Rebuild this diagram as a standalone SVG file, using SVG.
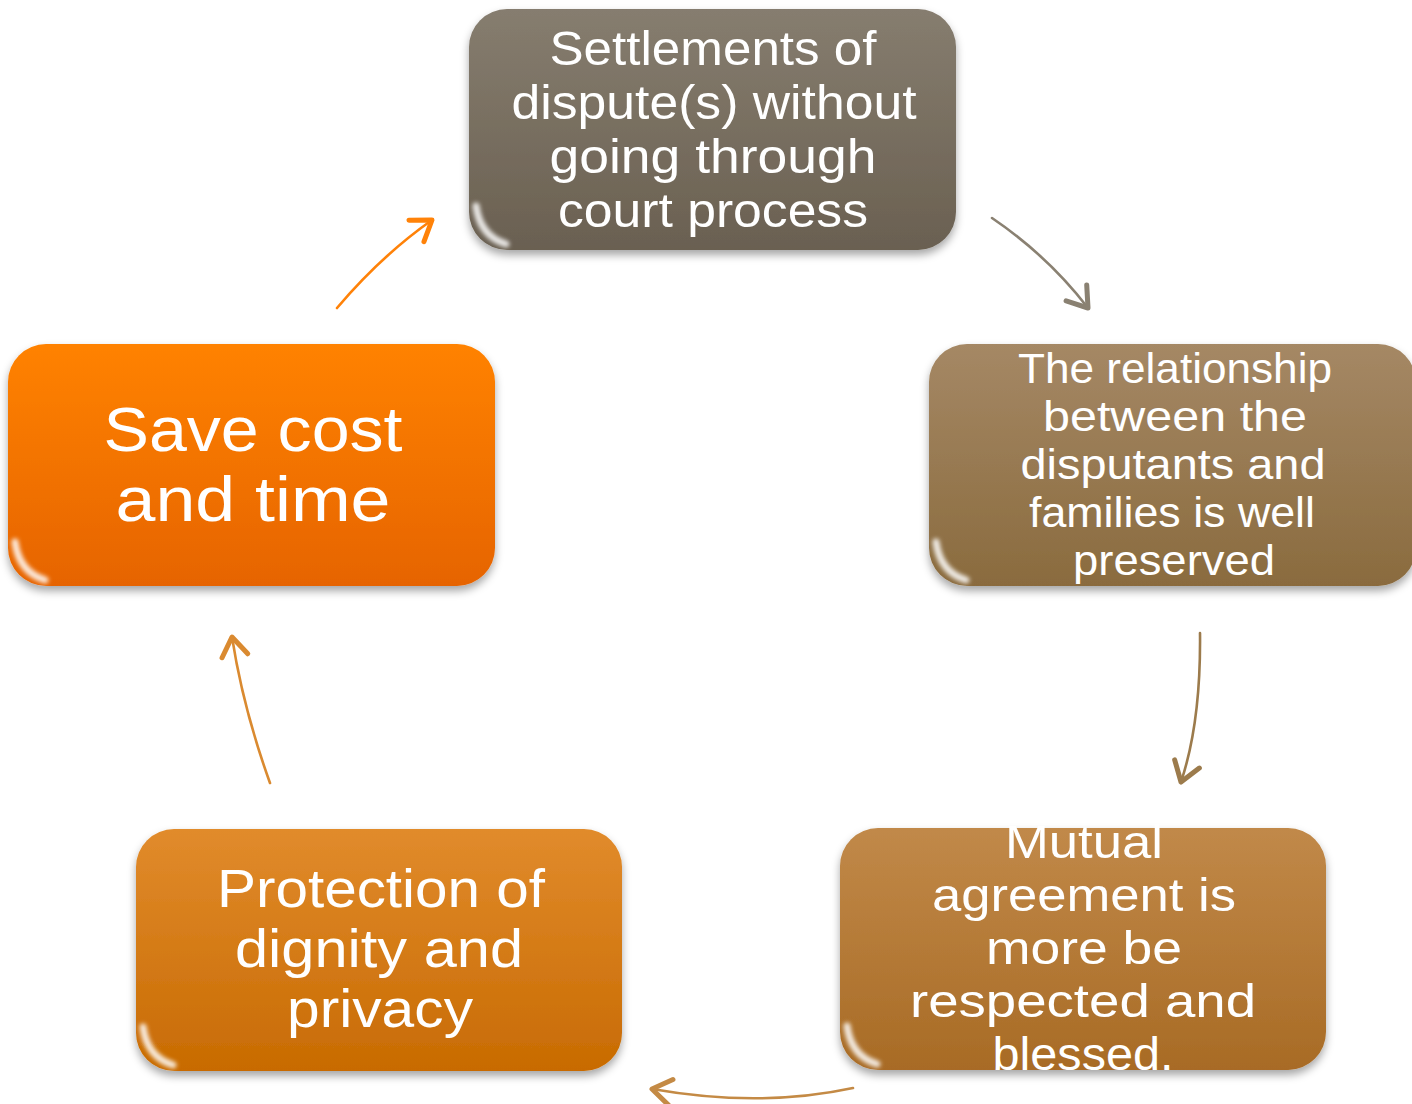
<svg xmlns="http://www.w3.org/2000/svg" width="1412" height="1104" viewBox="0 0 1412 1104">
<style>
.lbl{fill:#ffffff;font-family:"Liberation Sans",Arial,sans-serif;text-anchor:middle}
.hl{fill:none;stroke:#ffffff;stroke-linecap:round}
.con{fill:none;stroke-width:2.6;stroke-linecap:round}
</style>
<defs>
<filter id="sh" x="-10%" y="-10%" width="120%" height="130%">
<feDropShadow dx="0" dy="5" stdDeviation="4" flood-color="#000" flood-opacity="0.35"/>
</filter>
<filter id="bl" x="-20%" y="-50%" width="140%" height="200%"><feGaussianBlur stdDeviation="1.5"/></filter>
<filter id="bl2" x="-50%" y="-50%" width="200%" height="200%"><feGaussianBlur stdDeviation="2"/></filter>
<linearGradient id="g1" x1="0" y1="0" x2="0" y2="1"><stop offset="0" stop-color="#867d6f"/><stop offset="1" stop-color="#6a6051"/></linearGradient>
<linearGradient id="g2" x1="0" y1="0" x2="0" y2="1"><stop offset="0" stop-color="#a58865"/><stop offset="1" stop-color="#8a6b3e"/></linearGradient>
<linearGradient id="g3" x1="0" y1="0" x2="0" y2="1"><stop offset="0" stop-color="#c18949"/><stop offset="1" stop-color="#a86b25"/></linearGradient>
<linearGradient id="g4" x1="0" y1="0" x2="0" y2="1"><stop offset="0" stop-color="#e18b2c"/><stop offset="1" stop-color="#c86b02"/></linearGradient>
<linearGradient id="g5" x1="0" y1="0" x2="0" y2="1"><stop offset="0" stop-color="#ff8205"/><stop offset="1" stop-color="#e66405"/></linearGradient>
<marker id="m1" markerUnits="userSpaceOnUse" markerWidth="40" markerHeight="40" refX="0" refY="0" viewBox="-25 -20 30 40" orient="auto"><path d="M-19,-13 L0,0 L-19,13" fill="none" stroke="#8a8172" stroke-width="5" stroke-linecap="round" stroke-linejoin="round"/></marker>
<marker id="m2" markerUnits="userSpaceOnUse" markerWidth="40" markerHeight="40" refX="0" refY="0" viewBox="-25 -20 30 40" orient="auto"><path d="M-19,-13 L0,0 L-19,13" fill="none" stroke="#9c7b4c" stroke-width="5" stroke-linecap="round" stroke-linejoin="round"/></marker>
<marker id="m3" markerUnits="userSpaceOnUse" markerWidth="40" markerHeight="40" refX="0" refY="0" viewBox="-25 -20 30 40" orient="auto"><path d="M-19,-13 L0,0 L-19,13" fill="none" stroke="#c48a45" stroke-width="5" stroke-linecap="round" stroke-linejoin="round"/></marker>
<marker id="m4" markerUnits="userSpaceOnUse" markerWidth="40" markerHeight="40" refX="0" refY="0" viewBox="-25 -20 30 40" orient="auto"><path d="M-19,-13 L0,0 L-19,13" fill="none" stroke="#da8a30" stroke-width="5" stroke-linecap="round" stroke-linejoin="round"/></marker>
<marker id="m5" markerUnits="userSpaceOnUse" markerWidth="40" markerHeight="40" refX="0" refY="0" viewBox="-25 -20 30 40" orient="auto"><path d="M-19,-13 L0,0 L-19,13" fill="none" stroke="#ff8208" stroke-width="5" stroke-linecap="round" stroke-linejoin="round"/></marker>
</defs>
<rect width="1412" height="1104" fill="#ffffff"/>

<g id="connectors">
<path class="con" d="M992,218 Q1048,256 1088,308" stroke="#8a8172" marker-end="url(#m1)"/>
<path class="con" d="M1200,633 Q1201,722 1181,782" stroke="#9c7b4c" marker-end="url(#m2)"/>
<path class="con" d="M853,1088 Q760,1108 652,1089" stroke="#c48a45" marker-end="url(#m3)"/>
<path class="con" d="M270,783 Q243,708 232,637" stroke="#da8a30" marker-end="url(#m4)"/>
<path class="con" d="M337,308 Q381,256 432,220" stroke="#ff8208" marker-end="url(#m5)"/>
</g>

<g id="node-settlements">
<rect x="469" y="9" width="487" height="241" rx="38" fill="url(#g1)" filter="url(#sh)"/>
<path class="hl" d="M505,15 L920,15" stroke-width="3" opacity="0.45" filter="url(#bl)"/>
<path class="hl" d="M951,50 L951,215" stroke-width="2" opacity="0.35" filter="url(#bl)"/>
<path class="hl" d="M476,206 Q480,236 506,244" stroke-width="7" opacity="0.85" filter="url(#bl2)"/>
<text class="lbl" font-size="48"><tspan x="713" y="65" textLength="327" lengthAdjust="spacingAndGlyphs">Settlements of</tspan><tspan x="714" y="119" textLength="405" lengthAdjust="spacingAndGlyphs">dispute(s) without</tspan><tspan x="713" y="173" textLength="327" lengthAdjust="spacingAndGlyphs">going through</tspan><tspan x="713" y="227" textLength="310" lengthAdjust="spacingAndGlyphs">court process</tspan></text>
</g>

<g id="node-relationship">
<rect x="929" y="344" width="487" height="242" rx="38" fill="url(#g2)" filter="url(#sh)"/>
<path class="hl" d="M965,350 L1380,350" stroke-width="3" opacity="0.45" filter="url(#bl)"/>
<path class="hl" d="M936,542 Q940,572 966,580" stroke-width="7" opacity="0.85" filter="url(#bl2)"/>
<text class="lbl" font-size="42.8"><tspan x="1175" y="383" textLength="314" lengthAdjust="spacingAndGlyphs">The relationship</tspan><tspan x="1175" y="431" textLength="264" lengthAdjust="spacingAndGlyphs">between the</tspan><tspan x="1173" y="479" textLength="305" lengthAdjust="spacingAndGlyphs">disputants and</tspan><tspan x="1172" y="527" textLength="286" lengthAdjust="spacingAndGlyphs">families is well</tspan><tspan x="1174" y="575" textLength="202" lengthAdjust="spacingAndGlyphs">preserved</tspan></text>
</g>

<g id="node-mutual">
<rect x="840" y="828" width="486" height="242" rx="38" fill="url(#g3)" filter="url(#sh)"/>
<path class="hl" d="M876,834 L1290,834" stroke-width="3" opacity="0.45" filter="url(#bl)"/>
<path class="hl" d="M847,1026 Q851,1056 877,1064" stroke-width="7" opacity="0.85" filter="url(#bl2)"/>
<text class="lbl" font-size="47"><tspan x="1084" y="858" textLength="158" lengthAdjust="spacingAndGlyphs">Mutual</tspan><tspan x="1084" y="911" textLength="304" lengthAdjust="spacingAndGlyphs">agreement is</tspan><tspan x="1084" y="964" textLength="196" lengthAdjust="spacingAndGlyphs">more be</tspan><tspan x="1083" y="1017" textLength="346" lengthAdjust="spacingAndGlyphs">respected and</tspan><tspan x="1083" y="1070" textLength="181" lengthAdjust="spacingAndGlyphs">blessed.</tspan></text>
</g>

<g id="node-dignity">
<rect x="136" y="829" width="486" height="242" rx="38" fill="url(#g4)" filter="url(#sh)"/>
<path class="hl" d="M172,835 L586,835" stroke-width="3" opacity="0.45" filter="url(#bl)"/>
<path class="hl" d="M143,1027 Q147,1057 173,1065" stroke-width="7" opacity="0.85" filter="url(#bl2)"/>
<text class="lbl" font-size="53.4"><tspan x="381" y="907" textLength="328" lengthAdjust="spacingAndGlyphs">Protection of</tspan><tspan x="379" y="967" textLength="288" lengthAdjust="spacingAndGlyphs">dignity and</tspan><tspan x="380" y="1027" textLength="186" lengthAdjust="spacingAndGlyphs">privacy</tspan></text>
</g>

<g id="node-save">
<rect x="8" y="344" width="487" height="242" rx="38" fill="url(#g5)" filter="url(#sh)"/>
<path class="hl" d="M44,350 L459,350" stroke-width="3" opacity="0.45" filter="url(#bl)"/>
<path class="hl" d="M15,542 Q19,572 45,580" stroke-width="7" opacity="0.85" filter="url(#bl2)"/>
<text class="lbl" font-size="62.4"><tspan x="253" y="451" textLength="299" lengthAdjust="spacingAndGlyphs">Save cost</tspan><tspan x="253" y="521" textLength="275" lengthAdjust="spacingAndGlyphs">and time</tspan></text>
</g>
</svg>
